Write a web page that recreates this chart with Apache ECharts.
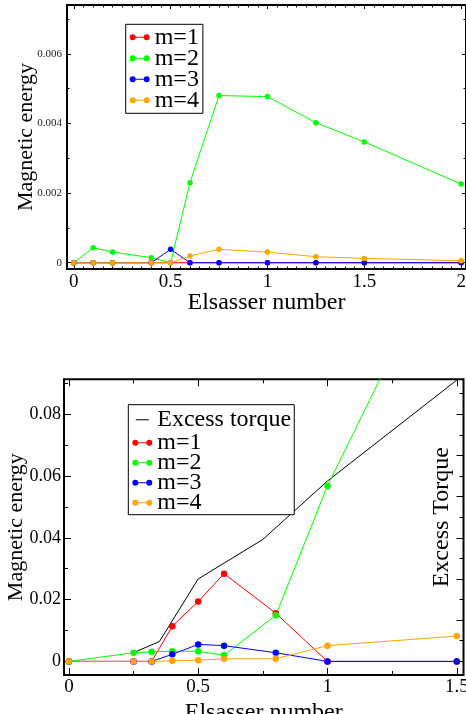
<!DOCTYPE html>
<html>
<head>
<meta charset="utf-8">
<script src="https://cdn.jsdelivr.net/npm/echarts@6/dist/echarts.min.js"></script>
<style>
html, body { margin: 0; padding: 0; background: #fff; }
#chart { width: 466px; height: 714px; }
</style>
</head>
<body>
<div id="chart"></div>
<script>
// Upper panel: magnetic energy of the m=1..4 modes versus Elsasser number
const upperElsasser = [0, 0.1, 0.2, 0.4, 0.5, 0.6, 0.75, 1, 1.25, 1.5, 2];
const upperM1 = [0, 0, 0, 0, 0, 0, 0, 0, 0, 0, 0];
const upperM2 = [0, 0.00043, 0.00031, 0.000144, 0, 0.0023, 0.0048, 0.00477, 0.00402, 0.00347, 0.00226];
const upperM3 = [0, 0, 0, 0, 0.000385, 0, 0, 0, 0, 0, 0];
const upperM4 = [0, 0, 0, 0, 0, 0.000195, 0.000385, 0.000306, 0.000173, 0.000125, 0.000057];

// Lower panel: mode energies plus the excess torque (right-hand scale)
const lowerElsasser = [0, 0.25, 0.32, 0.4, 0.5, 0.6, 0.8, 1, 1.5];
const lowerM1 = [0, 0, 0, 0.0114, 0.0194, 0.0284, 0.0156, 0, 0];
const lowerM2 = [0, 0.0028, 0.0031, 0.0033, 0.0033, 0.0020, 0.0149, 0.0568, 0.142];
const lowerM3 = [0, 0, 0, 0.0023, 0.0055, 0.0051, 0.0028, 0, 0];
const lowerM4 = [0, 0, 0, 0.0002, 0.0004, 0.00085, 0.00085, 0.0051, 0.0082];
const torqueElsasser = [0.25, 0.35, 0.5, 0.75, 1, 1.5];
const torqueValues = [0.21, 0.48, 2.0, 2.96, 4.38, 6.83];

// Tick positions
const upperXMajor = [0, 0.5, 1, 1.5, 2];
const upperXMinor = [0.05, 0.1, 0.15, 0.2, 0.25, 0.3, 0.35, 0.4, 0.45,
  0.55, 0.6, 0.65, 0.7, 0.75, 0.8, 0.85, 0.9, 0.95,
  1.05, 1.1, 1.15, 1.2, 1.25, 1.3, 1.35, 1.4, 1.45,
  1.55, 1.6, 1.65, 1.7, 1.75, 1.8, 1.85, 1.9, 1.95];
const upperYMajor = [0, 0.002, 0.004, 0.006];
const upperYMinor = [0.001, 0.003, 0.005, 0.007];
const lowerXMajor = [0, 0.5, 1, 1.5];
const lowerXMinor = [0.25, 0.75, 1.25];
const lowerYMajor = [0, 0.02, 0.04, 0.06, 0.08];
const lowerYMinor = [0.01, 0.03, 0.05, 0.07, 0.09];
const torqueMajor = [0, 1, 2, 3, 4, 5, 6];
const torqueMinor = [0.5, 1.5, 2.5, 3.5, 4.5, 5.5, 6.5];

const SERIF = "'Liberation Serif', 'Times New Roman', serif";
const modeColors = { 'm=1': '#ff0000', 'm=2': '#00ff00', 'm=3': '#0000ff', 'm=4': '#ffa500' };

const pairs = (xs, ys) => xs.map((x, i) => [x, ys[i]]);

function tickAxis(grid, pos, min, max, ticks, len, extra) {
  return Object.assign({
    type: 'value', gridIndex: grid, position: pos, min: min, max: max,
    axisLine: { show: false, onZero: false },
    splitLine: { show: false },
    axisTick: { show: true, inside: true, length: len, customValues: ticks,
      lineStyle: { color: '#000', width: 1 } },
    axisLabel: { show: false },
    nameMoveOverlap: false
  }, extra || {});
}

const UX = [-0.035, 2.025], UY = [-0.00018, 0.0074];
const LX = [-0.019, 1.526], LY = [-0.0044, 0.0913];
const TQ = [-0.333, 6.85];

const xAxes = [
  tickAxis(0, 'bottom', UX[0], UX[1], upperXMajor, 4, {
    axisLabel: { show: true, customValues: upperXMajor, margin: 4,
      fontFamily: SERIF, fontSize: 19, color: '#000' },
    name: 'Elsasser number', nameLocation: 'middle', nameGap: 22,
    nameTextStyle: { fontFamily: SERIF, fontSize: 24, color: '#000' }
  }),
  tickAxis(0, 'bottom', UX[0], UX[1], upperXMinor, 2.5),
  tickAxis(0, 'top', UX[0], UX[1], upperXMajor, 4),
  tickAxis(0, 'top', UX[0], UX[1], upperXMinor, 2.5),
  tickAxis(1, 'bottom', LX[0], LX[1], lowerXMajor, 7, {
    axisLabel: { show: true, customValues: lowerXMajor, margin: 3,
      fontFamily: SERIF, fontSize: 19, color: '#000' },
    name: 'Elsasser number', nameLocation: 'middle', nameGap: 26,
    nameTextStyle: { fontFamily: SERIF, fontSize: 24, color: '#000' }
  }),
  tickAxis(1, 'bottom', LX[0], LX[1], lowerXMinor, 4),
  tickAxis(1, 'top', LX[0], LX[1], lowerXMajor, 7),
  tickAxis(1, 'top', LX[0], LX[1], lowerXMinor, 4)
];

const yAxes = [
  tickAxis(0, 'left', UY[0], UY[1], upperYMajor, 4, {
    axisLabel: { show: true, customValues: upperYMajor, margin: 5,
      fontFamily: SERIF, fontSize: 11, color: '#222' },
    name: 'Magnetic energy', nameLocation: 'middle', nameGap: 30, nameRotate: 90,
    nameTextStyle: { fontFamily: SERIF, fontSize: 22, color: '#000' }
  }),
  tickAxis(0, 'left', UY[0], UY[1], upperYMinor, 2.5),
  tickAxis(0, 'right', UY[0], UY[1], upperYMajor, 4),
  tickAxis(0, 'right', UY[0], UY[1], upperYMinor, 2.5),
  tickAxis(1, 'left', LY[0], LY[1], lowerYMajor, 7, {
    axisLabel: { show: true, customValues: lowerYMajor, margin: 3,
      fontFamily: SERIF, fontSize: 18, color: '#000' },
    name: 'Magnetic energy', nameLocation: 'middle', nameGap: 37, nameRotate: 90,
    nameTextStyle: { fontFamily: SERIF, fontSize: 22, color: '#000' }
  }),
  tickAxis(1, 'left', LY[0], LY[1], lowerYMinor, 4),
  tickAxis(1, 'right', TQ[0], TQ[1], torqueMajor, 7, {
    name: 'Excess Torque', nameLocation: 'middle', nameGap: -34, nameRotate: 90,
    nameTextStyle: { fontFamily: SERIF, fontSize: 24, color: '#000', padding: [0, 0, 0, 20] }
  }),
  tickAxis(1, 'right', TQ[0], TQ[1], torqueMinor, 4)
];

function modeSeries(name, xs, ys, grid, size) {
  return {
    name: name, type: 'line',
    xAxisIndex: grid === 0 ? 0 : 4, yAxisIndex: grid === 0 ? 0 : 4,
    data: pairs(xs, ys),
    symbol: 'circle', symbolSize: size, showSymbol: true, clip: true,
    color: modeColors[name],
    lineStyle: { width: 1, color: modeColors[name] },
    itemStyle: { color: modeColors[name], borderWidth: 0 },
    emphasis: { disabled: true },
    z: 2
  };
}

const series = [
  modeSeries('m=1', upperElsasser, upperM1, 0, 5.5),
  modeSeries('m=2', upperElsasser, upperM2, 0, 5.5),
  modeSeries('m=3', upperElsasser, upperM3, 0, 5.5),
  modeSeries('m=4', upperElsasser, upperM4, 0, 5.5),
  {
    name: 'Excess torque', type: 'line', xAxisIndex: 4, yAxisIndex: 6,
    data: pairs(torqueElsasser, torqueValues),
    showSymbol: false, symbol: 'none', clip: true, color: '#000',
    lineStyle: { width: 1, color: '#000' },
    itemStyle: { color: '#000', borderWidth: 0 },
    emphasis: { disabled: true }, z: 2
  },
  modeSeries('m=1', lowerElsasser, lowerM1, 1, 6.5),
  modeSeries('m=2', lowerElsasser, lowerM2, 1, 6.5),
  modeSeries('m=3', lowerElsasser, lowerM3, 1, 6.5),
  modeSeries('m=4', lowerElsasser, lowerM4, 1, 6.5)
];

// Legend glyphs: a short line with a dot at each end, and a plain dash
const dotLineIcon = 'path://M0,3A3,3,0,1,1,6,3A3,3,0,1,1,0,3ZM4,2.5L16,2.5L16,3.5L4,3.5ZM14,3A3,3,0,1,1,20,3A3,3,0,1,1,14,3Z';
const dashIcon = 'path://M0,0L0.01,0L0,0.01ZM3.5,2.5L16.5,2.5L16.5,3.5L3.5,3.5ZM20,6L19.99,6L20,5.99Z';

const legendText = { fontFamily: SERIF, fontSize: 24, color: '#000' };
const modeNames = ['m=1', 'm=2', 'm=3', 'm=4'];
const modeLegendItems = modeNames.map(n => ({
  name: n, icon: dotLineIcon, itemStyle: { color: modeColors[n], borderWidth: 0 }
}));

const option = {
  animation: false,
  backgroundColor: '#fff',
  grid: [
    { left: 67, top: 5, width: 399, height: 264, show: true, borderColor: '#000',
      borderWidth: 2, backgroundColor: 'transparent', containLabel: false, outerBoundsMode: 'none' },
    { left: 64, top: 379.3, width: 399.5, height: 295.7, show: true, borderColor: '#000',
      borderWidth: 2, backgroundColor: 'transparent', containLabel: false, outerBoundsMode: 'none' }
  ],
  xAxis: xAxes,
  yAxis: yAxes,
  legend: [
    {
      orient: 'vertical', left: 125.7, top: 24.3,
      itemWidth: 20, itemHeight: 6, itemGap: -3,
      padding: [1, 4, 1, 4],
      borderColor: '#000', borderWidth: 1, backgroundColor: '#fff',
      selectedMode: false,
      textStyle: legendText,
      itemStyle: { borderWidth: 0 },
      data: modeLegendItems
    },
    {
      orient: 'vertical', left: 128.3, top: 404.7,
      itemWidth: 20, itemHeight: 6, itemGap: -4,
      padding: [0, 3, 0, 4],
      borderColor: '#000', borderWidth: 1, backgroundColor: '#fff',
      selectedMode: false,
      formatter: name => name === 'Excess torque' ? '{head|' + name + '}' : name,
      textStyle: Object.assign({}, legendText, {
        rich: { head: { fontFamily: SERIF, fontSize: 24, color: '#000', height: 30, lineHeight: 30 } }
      }),
      itemStyle: { borderWidth: 0 },
      data: [{ name: 'Excess torque', icon: dashIcon, itemStyle: { color: '#000', borderWidth: 0 } }]
        .concat(modeLegendItems)
    }
  ],
  series: series
};

const chart = echarts.init(document.getElementById('chart'), null, { renderer: 'canvas' });
chart.setOption(option);
</script>
</body>
</html>
